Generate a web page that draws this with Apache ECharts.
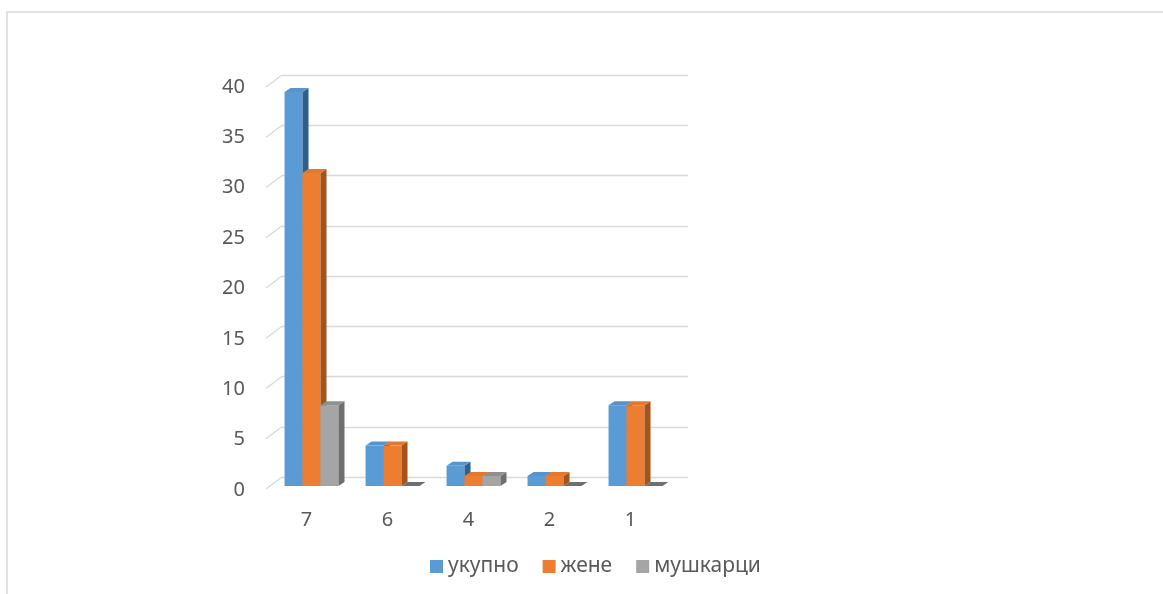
<!DOCTYPE html>
<html>
<head>
<meta charset="utf-8">
<script src="https://cdn.jsdelivr.net/npm/echarts@6/dist/echarts.min.js"></script>
<style>html,body{margin:0;padding:0;background:#fff}#c{width:1163px;height:594px}</style>
</head>
<body>
<div id="c"></div>
<script>
const categories = ['7', '6', '4', '2', '1'];
const seriesNames = ['укупно', 'жене', 'мушкарци'];
const ukupno = [39, 4, 2, 1, 8];
const zene = [31, 4, 1, 1, 8];
const muskarci = [8, 0, 1, 0, 0];
const yTicks = [0, 5, 10, 15, 20, 25, 30, 35, 40];

const seriesValues = [ukupno, zene, muskarci];
const fronts = ['#5B9BD5', '#ED7D31', '#A5A5A5'];
const sides = ['#2F5F8C', '#A3531C', '#6F6F6F'];
const tops = ['#5894CC', '#E2782F', '#8F8F8F'];
const FONT = 'Noto Sans';
const TXT = '#595959';
const DX = 6, DY = 4;

function barRenderer(s) {
  return function (params, api) {
    const cat = api.value(0), val = api.value(1);
    const band = api.size([1, 0])[0];
    const base = api.coord([cat, 0]);
    const topPt = api.coord([cat, val]);
    const w = band * 0.222;
    const x = base[0] - 1.5 * w + band * 0.062 + s * w;
    const yb = base[1], yt = topPt[1];
    const children = [];
    if (yb - yt > 0.1) {
      children.push({ type: 'rect', shape: { x: x, y: yt, width: w, height: yb - yt }, style: { fill: fronts[s] } });
    }
    children.push({ type: 'polygon', shape: { points: [[x + w, yt], [x + w + DX, yt - DY], [x + w + DX, yb - DY], [x + w, yb]] }, style: { fill: sides[s] } });
    children.push({ type: 'polygon', shape: { points: [[x, yt], [x + DX, yt - DY], [x + w + DX, yt - DY], [x + w, yt]] }, style: { fill: val === 0 ? sides[s] : tops[s] } });
    return { type: 'group', children: children };
  };
}

const chart = echarts.init(document.getElementById('c'), null, { renderer: 'canvas' });
const option = {
  animation: false,
  backgroundColor: '#fff',
  textStyle: { fontFamily: FONT },
  graphic: [{
    type: 'rect', shape: { x: 7, y: 12, width: 1200, height: 640 },
    style: { fill: 'none', stroke: '#d9d9d9', lineWidth: 1.5 }, silent: true, z: -10
  }],
  grid: [
    { left: 266, width: 405, top: 82, bottom: 108 },
    { left: 282, width: 406, top: 75, bottom: 117 },
    { left: 266, width: 405, top: 87, bottom: 104 }
  ],
  xAxis: [
    { type: 'category', gridIndex: 0, data: categories, axisLine: { show: false }, axisTick: { show: false },
      axisLabel: { margin: 24, fontSize: 20, color: TXT, fontFamily: FONT } },
    { type: 'value', gridIndex: 1, min: 0, max: 1, show: false },
    { type: 'value', gridIndex: 2, min: 0, max: 1, show: false }
  ],
  yAxis: [
    { type: 'value', gridIndex: 0, min: 0, max: 40, interval: 5, show: false },
    { type: 'value', gridIndex: 1, min: 0, max: 40, interval: 5, axisLabel: { show: false },
      axisLine: { show: false }, axisTick: { show: false }, splitLine: { lineStyle: { color: '#d9d9d9', width: 1.3 } } },
    { type: 'value', gridIndex: 2, min: 0, max: 40, interval: 5, axisLine: { show: false }, axisTick: { show: false },
      splitLine: { show: false }, axisLabel: { margin: 21, fontSize: 20, color: TXT, fontFamily: FONT } }
  ],
  legend: {
    data: seriesNames, left: 425, top: 551, icon: 'rect', itemWidth: 13, itemHeight: 13, itemGap: 24,
    textStyle: { fontSize: 21, color: TXT, fontFamily: FONT }
  },
  series: [
    {
      type: 'custom', xAxisIndex: 1, yAxisIndex: 1, silent: true, z: 1,
      data: yTicks.map(v => [0, v]),
      renderItem: function (params, api) {
        const p = api.coord([0, api.value(1)]);
        return { type: 'line', shape: { x1: p[0] - 16, y1: p[1] + 12, x2: p[0], y2: p[1] },
          style: { stroke: '#d9d9d9', lineWidth: 1.3 } };
      }
    }
  ].concat(seriesNames.map((name, s) => ({
    name: name, type: 'custom', xAxisIndex: 0, yAxisIndex: 0, z: 2 + s,
    itemStyle: { color: fronts[s] },
    data: seriesValues[s].map((v, i) => [i, v]),
    renderItem: barRenderer(s)
  })))
};
chart.setOption(option);
</script>
</body>
</html>
